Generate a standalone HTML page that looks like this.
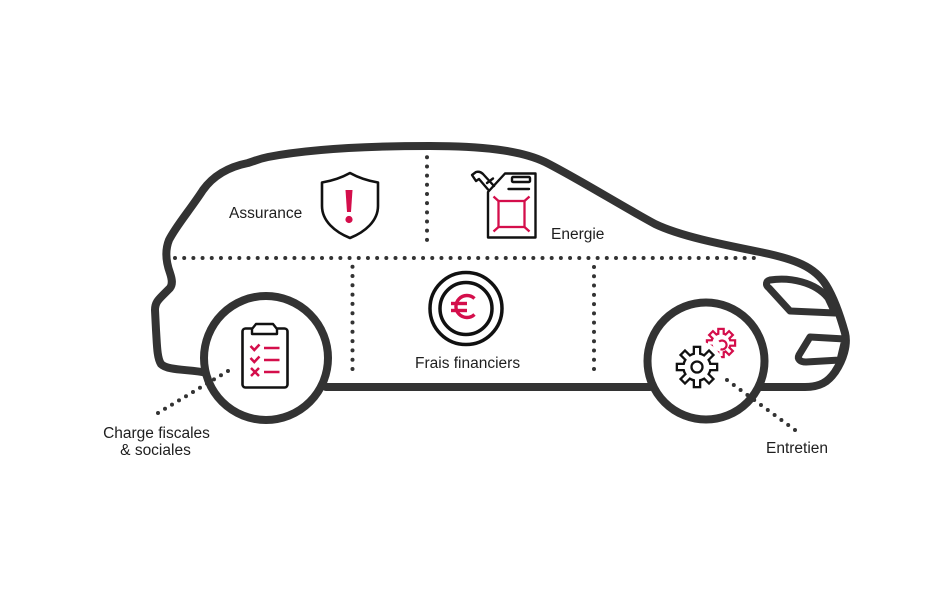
<!DOCTYPE html>
<html>
<head>
<meta charset="utf-8">
<style>
html,body{margin:0;padding:0;background:#fff;}
svg{display:block;}
text{font-family:"Liberation Sans",Arial,sans-serif;font-size:15.5px;fill:#1e1e1e;}
</style>
</head>
<body>
<svg width="928" height="594" viewBox="0 0 928 594" xmlns="http://www.w3.org/2000/svg">
<rect width="928" height="594" fill="#fff"/>

<!-- car body -->
<path d="M 207 373
C 190 369, 168 371, 161 364
C 157 358, 157 345, 156 330
L 155 310
C 155 303, 158 300, 163 295
L 170 288
C 173 284, 172 279, 170 273
C 166 262, 165 250, 169 240
C 176 226, 190 210, 203 190
C 213 176, 228 167, 248 163
C 255 161, 258 159, 268 157
C 310 149, 370 146, 430 146
C 480 146, 520 150, 545 162
C 575 177, 620 205, 655 224
C 680 236, 720 244, 760 252
C 795 259, 815 267, 826 285
C 834 298, 840 315, 845 333
C 848 345, 843 360, 835 372
C 828 382, 820 387, 805 387
L 760 387
M 650 387 L 326 387" fill="none" stroke="#333" stroke-width="8" stroke-linejoin="round" stroke-linecap="round"/>

<!-- headlight -->
<path d="M 770 280 C 790 277, 815 282, 828 298 L 835 313 L 790 311 L 769 288 C 765 285, 766 281, 770 280 Z" fill="none" stroke="#333" stroke-width="7" stroke-linejoin="round"/>
<!-- lower grille -->
<path d="M 810 337 L 845 339 L 840 360 L 806 362 C 800 362, 797 359, 799 355 Z" fill="none" stroke="#333" stroke-width="7" stroke-linejoin="round"/>

<!-- wheels -->
<circle cx="266" cy="358" r="62" fill="#fff" stroke="#333" stroke-width="8"/>
<circle cx="706" cy="361" r="58.5" fill="#fff" stroke="#333" stroke-width="8"/>

<!-- dotted lines -->
<g stroke="#333" stroke-width="4" stroke-linecap="round" fill="none">
<line x1="175" y1="258" x2="763" y2="258" stroke-dasharray="0 9.1875"/>
<line x1="427" y1="157.3" x2="427" y2="249" stroke-dasharray="0 9.17"/>
<line x1="352.5" y1="266.7" x2="352.5" y2="378.3" stroke-dasharray="0 9.3"/>
<line x1="594" y1="267" x2="594" y2="378.3" stroke-dasharray="0 9.275"/>
<line x1="158" y1="413" x2="228" y2="371" stroke-dasharray="0 8.16"/>
<line x1="727" y1="380" x2="795" y2="430" stroke-dasharray="0 8.44"/>
</g>

<!-- shield -->
<path d="M 350 173 C 341 178, 331 181, 322 182.5 L 322 206 C 322 221, 335 232, 350 238 C 365 232, 378 221, 378 206 L 378 182.5 C 369 181, 359 178, 350 173 Z" fill="none" stroke="#111" stroke-width="2.6" stroke-linejoin="round"/>
<path d="M 345.5 190 L 352.5 190 L 351 212 L 347 212 Z" fill="#d40e4b"/>
<circle cx="349" cy="219.5" r="3.6" fill="#d40e4b"/>

<!-- jerry can -->
<g fill="none" stroke="#111" stroke-width="2.4" stroke-linejoin="round" stroke-linecap="round">
<path d="M 488 192 L 505 173.5 L 535.5 173.5 L 535.5 237.5 L 488 237.5 Z"/>
<rect x="512" y="177" width="18" height="5" rx="1"/>
<line x1="508.5" y1="189" x2="529" y2="189"/>
<path d="M 494 186 L 483 174 Q 480 171 476 172 L 472 175 L 476 181 L 479 179 L 488 189.5"/>
<line x1="487" y1="183" x2="493" y2="178.5"/>
</g>
<g fill="none" stroke="#d40e4b" stroke-width="2.3">
<rect x="498.5" y="201" width="26" height="26"/>
<line x1="493.5" y1="196.5" x2="498.5" y2="201"/>
<line x1="529.5" y1="196.5" x2="524.5" y2="201"/>
<line x1="493.5" y1="231.5" x2="498.5" y2="227"/>
<line x1="529.5" y1="231.5" x2="524.5" y2="227"/>
</g>

<!-- coin -->
<circle cx="466" cy="308.5" r="36" fill="none" stroke="#111" stroke-width="3.5"/>
<circle cx="466" cy="308.5" r="26" fill="none" stroke="#111" stroke-width="3.5"/>
<g fill="none" stroke="#d40e4b" stroke-width="3.4" stroke-linecap="butt">
<path d="M 474.5 298.5 A 11 11 0 1 0 474.5 314.5"/>
<line x1="451" y1="303.5" x2="467" y2="303.5"/>
<line x1="451" y1="310.5" x2="467" y2="310.5"/>
</g>

<!-- clipboard -->
<rect x="242.5" y="328.5" width="45" height="59" rx="3" fill="#fff" stroke="#111" stroke-width="2.6"/>
<path d="M 252 334 L 252 329 L 256 324 L 273 324 L 277 329 L 277 334 Z" fill="#fff" stroke="#111" stroke-width="2.4" stroke-linejoin="round"/>
<g fill="none" stroke="#d40e4b" stroke-width="2.5">
<polyline points="250.5,346 254.3,350 259.5,344.5"/>
<line x1="264" y1="348" x2="279.5" y2="348"/>
<polyline points="250.5,358 254.3,362 259.5,356.5"/>
<line x1="264" y1="360" x2="279.5" y2="360"/>
<line x1="251" y1="368" x2="259" y2="376"/>
<line x1="259" y1="368" x2="251" y2="376"/>
<line x1="264" y1="372" x2="279.5" y2="372"/>
</g>

<!-- red gear -->
<g transform="translate(721 343)">
<g fill="#d40e4b" stroke="#d40e4b" stroke-width="4.4">
<circle r="8.5"/>
<rect x="-1.6" y="-13" width="3.2" height="6" transform="rotate(0)"/>
<rect x="-1.6" y="-13" width="3.2" height="6" transform="rotate(45)"/>
<rect x="-1.6" y="-13" width="3.2" height="6" transform="rotate(90)"/>
<rect x="-1.6" y="-13" width="3.2" height="6" transform="rotate(135)"/>
<rect x="-1.6" y="-13" width="3.2" height="6" transform="rotate(180)"/>
<rect x="-1.6" y="-13" width="3.2" height="6" transform="rotate(225)"/>
<rect x="-1.6" y="-13" width="3.2" height="6" transform="rotate(270)"/>
<rect x="-1.6" y="-13" width="3.2" height="6" transform="rotate(315)"/>
</g>
<g fill="#fff">
<circle r="8.5"/>
<rect x="-1.6" y="-13" width="3.2" height="6" transform="rotate(0)"/>
<rect x="-1.6" y="-13" width="3.2" height="6" transform="rotate(45)"/>
<rect x="-1.6" y="-13" width="3.2" height="6" transform="rotate(90)"/>
<rect x="-1.6" y="-13" width="3.2" height="6" transform="rotate(135)"/>
<rect x="-1.6" y="-13" width="3.2" height="6" transform="rotate(180)"/>
<rect x="-1.6" y="-13" width="3.2" height="6" transform="rotate(225)"/>
<rect x="-1.6" y="-13" width="3.2" height="6" transform="rotate(270)"/>
<rect x="-1.6" y="-13" width="3.2" height="6" transform="rotate(315)"/>
</g>
</g>
<circle cx="697" cy="367" r="26" fill="#fff"/>
<path d="M 719.1 341.6 A 4.5 4.5 0 1 1 720.5 349.2" fill="none" stroke="#d40e4b" stroke-width="2.2"/>

<!-- black gear -->
<g transform="translate(697 367)">
<g fill="#111" stroke="#111" stroke-width="4.6">
<circle r="12.5"/>
<rect x="-2" y="-19" width="4" height="8" transform="rotate(0)"/>
<rect x="-2" y="-19" width="4" height="8" transform="rotate(45)"/>
<rect x="-2" y="-19" width="4" height="8" transform="rotate(90)"/>
<rect x="-2" y="-19" width="4" height="8" transform="rotate(135)"/>
<rect x="-2" y="-19" width="4" height="8" transform="rotate(180)"/>
<rect x="-2" y="-19" width="4" height="8" transform="rotate(225)"/>
<rect x="-2" y="-19" width="4" height="8" transform="rotate(270)"/>
<rect x="-2" y="-19" width="4" height="8" transform="rotate(315)"/>
</g>
<g fill="#fff">
<circle r="12.5"/>
<rect x="-2" y="-19" width="4" height="8" transform="rotate(0)"/>
<rect x="-2" y="-19" width="4" height="8" transform="rotate(45)"/>
<rect x="-2" y="-19" width="4" height="8" transform="rotate(90)"/>
<rect x="-2" y="-19" width="4" height="8" transform="rotate(135)"/>
<rect x="-2" y="-19" width="4" height="8" transform="rotate(180)"/>
<rect x="-2" y="-19" width="4" height="8" transform="rotate(225)"/>
<rect x="-2" y="-19" width="4" height="8" transform="rotate(270)"/>
<rect x="-2" y="-19" width="4" height="8" transform="rotate(315)"/>
</g>
<circle r="5.5" fill="none" stroke="#111" stroke-width="2.3"/>
</g>

<!-- labels -->
<text x="229" y="218">Assurance</text>
<text x="551" y="239">Energie</text>
<text x="415" y="368">Frais financiers</text>
<text x="156.5" y="438" text-anchor="middle">Charge fiscales</text>
<text x="155.5" y="455" text-anchor="middle">&amp; sociales</text>
<text x="766" y="453">Entretien</text>
</svg>
</body>
</html>
